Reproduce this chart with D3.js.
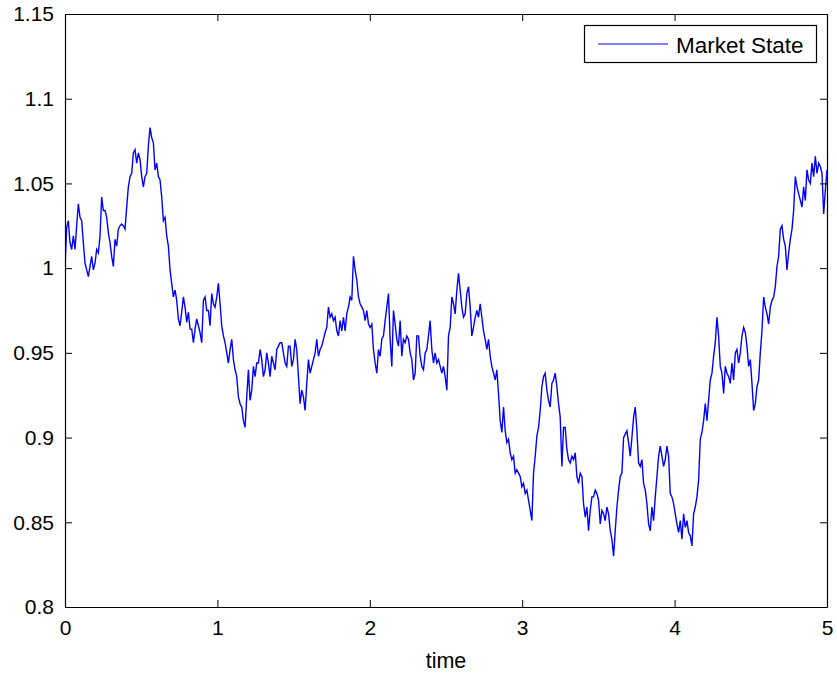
<!DOCTYPE html>
<html>
<head>
<meta charset="utf-8">
<script src="https://cdn.jsdelivr.net/npm/d3@7"></script>
<style>
  html, body { margin: 0; padding: 0; background: #fff; }
  svg text { font-family: "Liberation Sans", Arial, Helvetica, sans-serif; }
</style>
</head>
<body>
<svg id="chart" width="837" height="674"></svg>
<script>
// ---- data ----
const xTicks = [0, 1, 2, 3, 4, 5];
const xTickLabels = ["0", "1", "2", "3", "4", "5"];
const yTicks = [0.8, 0.85, 0.9, 0.95, 1.0, 1.05, 1.1, 1.15];
const yTickLabels = ["0.8", "0.85", "0.9", "0.95", "1", "1.05", "1.1", "1.15"];
const seriesName = "Market State";
const xLabel = "time";
const timeStart = 0;
const timeEnd = 5;

// market state samples, evenly spaced in time from timeStart to timeEnd
const marketSeg1 = [
  1.000, 1.024, 1.028, 1.015, 1.011, 1.019, 1.011, 1.025, 1.038, 1.030,
  1.028, 1.015, 1.003, 0.999, 0.995, 1.001, 1.007, 0.999, 1.003, 1.011,
  1.009, 1.019, 1.042, 1.034, 1.034, 1.030, 1.021, 1.015, 1.007, 1.001,
  1.017, 1.013, 1.023, 1.025, 1.026, 1.025, 1.023, 1.036, 1.048, 1.054,
  1.056, 1.068, 1.070, 1.062, 1.068, 1.064, 1.054, 1.048, 1.054, 1.056,
  1.072, 1.083, 1.077, 1.074, 1.058, 1.062, 1.054, 1.052, 1.042, 1.028,
  1.030, 1.019, 1.013, 0.999, 0.991, 0.983, 0.987, 0.981, 0.970, 0.966,
  0.974, 0.983, 0.977, 0.968, 0.974, 0.964, 0.964, 0.956, 0.964, 0.970,
  0.966, 0.962, 0.956, 0.981, 0.983, 0.975, 0.975, 0.966, 0.985, 0.979,
  0.977, 0.983, 0.991, 0.979, 0.966, 0.960, 0.956, 0.950, 0.944, 0.952
];
const marketSeg2 = [
  0.958, 0.946, 0.940, 0.936, 0.924, 0.920, 0.918, 0.910, 0.906, 0.924,
  0.940, 0.922, 0.928, 0.942, 0.936, 0.944, 0.944, 0.952, 0.946, 0.936,
  0.940, 0.950, 0.944, 0.936, 0.948, 0.944, 0.940, 0.952, 0.954, 0.956,
  0.956, 0.950, 0.944, 0.942, 0.954, 0.954, 0.942, 0.946, 0.958, 0.952,
  0.936, 0.920, 0.928, 0.924, 0.916, 0.932, 0.946, 0.938, 0.942, 0.946,
  0.950, 0.958, 0.948, 0.952, 0.954, 0.958, 0.962, 0.965, 0.977, 0.971,
  0.973, 0.969, 0.971, 0.963, 0.960, 0.969, 0.963, 0.971, 0.963, 0.973,
  0.977, 0.983, 0.981, 1.007, 0.999, 0.993, 0.983, 0.979, 0.977, 0.975,
  0.969, 0.975, 0.967, 0.965, 0.967, 0.952, 0.944, 0.938, 0.952, 0.948
];
const marketSeg3 = [
  0.958, 0.960, 0.969, 0.977, 0.985, 0.958, 0.942, 0.975, 0.967, 0.958,
  0.954, 0.969, 0.948, 0.958, 0.956, 0.960, 0.958, 0.950, 0.946, 0.934,
  0.938, 0.960, 0.960, 0.948, 0.942, 0.940, 0.950, 0.952, 0.960, 0.969,
  0.952, 0.944, 0.950, 0.944, 0.946, 0.942, 0.938, 0.942, 0.936, 0.928,
  0.960, 0.965, 0.983, 0.979, 0.973, 0.987, 0.997, 0.987, 0.977, 0.971,
  0.973, 0.985, 0.989, 0.977, 0.960, 0.965, 0.971, 0.975, 0.971, 0.979,
  0.971, 0.963, 0.958, 0.952, 0.958, 0.948, 0.942, 0.938, 0.934, 0.940,
  0.926, 0.910, 0.903, 0.918, 0.904, 0.897, 0.899, 0.891, 0.887, 0.889,
  0.879, 0.881, 0.879, 0.877, 0.871, 0.873, 0.867, 0.869, 0.863, 0.857,
  0.851, 0.879, 0.889, 0.901, 0.906, 0.916
];
const marketSeg4 = [
  0.930, 0.936, 0.938, 0.928, 0.922, 0.918, 0.932, 0.934, 0.938, 0.930,
  0.920, 0.912, 0.883, 0.906, 0.906, 0.893, 0.887, 0.885, 0.889, 0.887,
  0.891, 0.877, 0.873, 0.879, 0.877, 0.861, 0.853, 0.859, 0.845, 0.857,
  0.865, 0.865, 0.869, 0.867, 0.863, 0.849, 0.857, 0.855, 0.851, 0.859,
  0.855, 0.845, 0.840, 0.830, 0.845, 0.859, 0.869, 0.877, 0.879, 0.900,
  0.902, 0.904, 0.897, 0.889, 0.900, 0.912, 0.918, 0.904, 0.885, 0.883,
  0.887, 0.873, 0.869, 0.861, 0.849, 0.845, 0.859, 0.851, 0.865, 0.877,
  0.889, 0.895, 0.889, 0.883, 0.887, 0.895, 0.889, 0.867, 0.865, 0.861,
  0.855, 0.849, 0.844, 0.851, 0.840, 0.855, 0.847, 0.851, 0.844, 0.842,
  0.836, 0.855, 0.859, 0.865, 0.875, 0.899
];
const marketSeg5 = [
  0.903, 0.910, 0.920, 0.910, 0.922, 0.934, 0.938, 0.948, 0.956, 0.971,
  0.960, 0.942, 0.938, 0.926, 0.942, 0.938, 0.936, 0.932, 0.944, 0.934,
  0.950, 0.952, 0.944, 0.950, 0.960, 0.965, 0.962, 0.954, 0.942, 0.946,
  0.932, 0.916, 0.920, 0.930, 0.934, 0.950, 0.963, 0.983, 0.977, 0.973,
  0.967, 0.977, 0.981, 0.983, 0.989, 1.001, 1.007, 1.023, 1.025, 1.017,
  1.013, 0.999, 1.009, 1.017, 1.023, 1.034, 1.054, 1.048, 1.044, 1.040,
  1.036, 1.048, 1.040, 1.058, 1.052, 1.050, 1.062, 1.054, 1.066, 1.056,
  1.062, 1.060, 1.056, 1.032, 1.046, 1.058
];

const marketValues = [].concat(marketSeg1, marketSeg2, marketSeg3, marketSeg4, marketSeg5);
const timeStep = (timeEnd - timeStart) / (marketValues.length - 1);
const data = marketValues.map((v, i) => ({ t: timeStart + i * timeStep, v: v }));

// ---- layout ----
const plot = { left: 65, top: 14, right: 827, bottom: 607 };
const fontSize = 21;
const tickLen = 7;

const svg = d3.select("#chart");

const x = d3.scaleLinear().domain([timeStart, timeEnd]).range([plot.left, plot.right]);
const y = d3.scaleLinear().domain([0.8, 1.15]).range([plot.bottom, plot.top]);

svg.append("defs").append("clipPath").attr("id", "clip")
  .append("rect")
  .attr("x", plot.left).attr("y", plot.top)
  .attr("width", plot.right - plot.left).attr("height", plot.bottom - plot.top);

const line = d3.line().x(d => x(d.t)).y(d => y(d.v));
svg.append("path")
  .datum(data)
  .attr("clip-path", "url(#clip)")
  .attr("fill", "none")
  .attr("stroke", "#0000ff")
  .attr("stroke-width", 1.4)
  .attr("stroke-linejoin", "miter")
  .attr("d", line);

function styleAxis(g) {
  g.selectAll("path.domain").attr("stroke", "#000").attr("stroke-width", 1.2);
  g.selectAll(".tick line").attr("stroke", "#000").attr("stroke-width", 1);
  g.selectAll(".tick text").attr("fill", "#000").style("font-size", fontSize + "px")
    .style("font-family", "'Liberation Sans', Arial, sans-serif");
}

const xAxisBottom = d3.axisBottom(x).tickValues(xTicks)
  .tickFormat((d, i) => xTickLabels[i]).tickSizeInner(-tickLen).tickSizeOuter(0).tickPadding(13);
svg.append("g").attr("transform", `translate(0,${plot.bottom})`).call(xAxisBottom).call(styleAxis);

const xAxisTop = d3.axisTop(x).tickValues(xTicks).tickFormat("")
  .tickSizeInner(-tickLen).tickSizeOuter(0);
svg.append("g").attr("transform", `translate(0,${plot.top})`).call(xAxisTop).call(styleAxis);

const yAxisLeft = d3.axisLeft(y).tickValues(yTicks)
  .tickFormat((d, i) => yTickLabels[i]).tickSizeInner(-tickLen).tickSizeOuter(0).tickPadding(11);
svg.append("g").attr("transform", `translate(${plot.left},0)`).call(yAxisLeft).call(styleAxis);

const yAxisRight = d3.axisRight(y).tickValues(yTicks).tickFormat("")
  .tickSizeInner(-tickLen).tickSizeOuter(0);
svg.append("g").attr("transform", `translate(${plot.right},0)`).call(yAxisRight).call(styleAxis);

svg.append("text")
  .attr("x", (plot.left + plot.right) / 2)
  .attr("y", 668)
  .attr("text-anchor", "middle")
  .style("font-size", "21.5px")
  .attr("fill", "#000")
  .text(xLabel);

const lg = svg.append("g");
lg.append("rect")
  .attr("x", 584.5).attr("y", 25.5).attr("width", 232).attr("height", 37)
  .attr("fill", "#fff").attr("stroke", "#000").attr("stroke-width", 1.2);
lg.append("line")
  .attr("x1", 598).attr("x2", 668).attr("y1", 44).attr("y2", 44)
  .attr("stroke", "#0000ff").attr("stroke-width", 1);
lg.append("text")
  .attr("x", 676).attr("y", 52.5)
  .style("font-size", "22.5px")
  .attr("fill", "#000")
  .text(seriesName);
</script>
</body>
</html>
